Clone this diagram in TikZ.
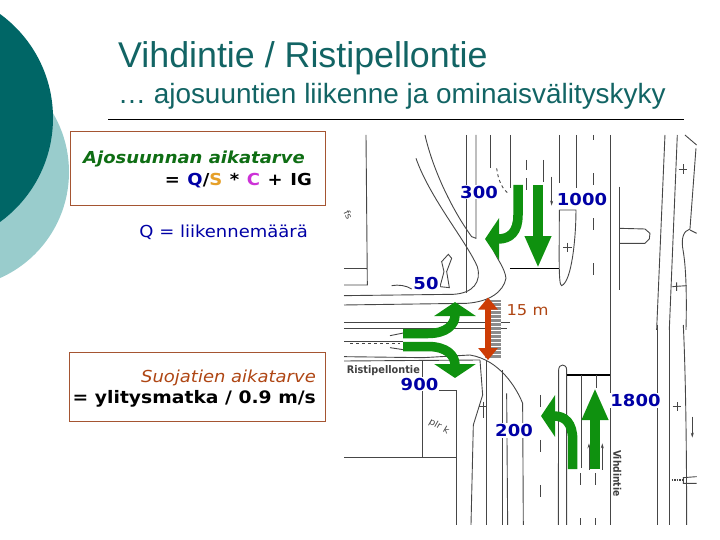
\documentclass[tikz,border=0pt]{standalone}
\usepackage{fontspec}
\usepackage{tikz}
\usetikzlibrary{arrows.meta,positioning,calc}
\setmainfont{Liberation Sans}
\newfontfamily\verdfont[FakeStretch=1.09]{DejaVu Sans}
\definecolor{TealDark}{RGB}{0,102,102}
\definecolor{TealLight}{RGB}{153,204,204}
\definecolor{TitleTeal}{RGB}{18,100,100}
\definecolor{BoxBorder}{RGB}{165,85,50}
\definecolor{ArrowGreen}{RGB}{15,145,15}
\definecolor{ArrowRed}{RGB}{205,60,5}
\definecolor{RedText}{RGB}{175,70,20}
\definecolor{CountBlue}{RGB}{0,0,165}
\definecolor{FormGreen}{RGB}{15,110,20}
\definecolor{FormOrange}{RGB}{230,160,40}
\definecolor{FormPurple}{RGB}{205,50,215}
\definecolor{MapGrey}{RGB}{70,70,70}

\begin{document}
\begin{tikzpicture}[x=1pt,y=-1pt,
          boxnote/.style={draw=BoxBorder,fill=white,line width=0.8pt,inner sep=0pt},
          formula/.style={font=\verdfont\fontsize{16.5}{18}\selectfont,inner sep=0pt},
          count/.style={font=\verdfont\fontsize{16.5}{20}\selectfont\bfseries,text=CountBlue,fill=white,inner sep=1pt},
          mapline/.style={draw=MapGrey,line width=0.9pt},
          maptext/.style={font=\verdfont\fontsize{9}{10}\selectfont,text=MapGrey,inner sep=0pt},
          flowlong/.style={draw=ArrowGreen,line width=9.5pt,-{Triangle[length=32pt,width=24.5pt]}},
          flowturn/.style={draw=ArrowGreen,line width=9.5pt,-{Triangle[length=14pt,width=41pt]}},
          walkspan/.style={draw=ArrowRed,line width=6.5pt,{Triangle[length=12pt,width=19pt]}-{Triangle[length=12pt,width=19pt]}}
        ]
          \useasboundingbox (0,0) rectangle (720,540);

          \fill[TealLight] (-47,172) circle (116);
          \fill[TealDark] (-75.5,118) circle (128.5);

          \node(title)[anchor=base west,inner sep=0pt,text=TitleTeal,font=\fontsize{35.8}{38}\selectfont] at (118,68) {Vihdintie / Ristipellontie};
          \node(subtitle)[anchor=base west,inner sep=0pt,text=TitleTeal,font=\fontsize{27.9}{30}\selectfont] at (118,104) {\ldots\ ajosuuntien liikenne ja ominaisvälityskyky};
          \coordinate (ruleL) at (108,119.5);
          \coordinate (ruleR) at (684,119.5);
          \draw[black,line width=1.6pt] (ruleL) -- (ruleR);

          \begin{scope}[shift={(340,125)},x=0.3333pt,y=-0.3333pt]
            \draw[mapline] (78,30) -- (82,480) -- (12,480);
            \draw[mapline] (12,430) -- (82,430);
            \draw[mapline] (255,30) .. controls (280,140) and (340,260) .. (395,335) -- (408,340) -- (408,30);
            \draw[mapline] (378,30) -- (378,505);
            \draw[mapline] (228,100) .. controls (270,220) and (380,350) .. (412,425) .. controls (425,470) and (400,505) .. (340,508) -- (12,512);
            \draw[mapline] (12,540) -- (380,535) .. controls (450,530) and (490,500) .. (498,460) .. controls (495,430) and (470,400) .. (460,375);
            \draw[mapline] (452,30) -- (452,130);
            \draw[mapline] (510,30) -- (510,190);
            \draw[mapline] (12,592) -- (510,592);
            \draw[mapline] (658,30) -- (658,175);
            \draw[mapline] (708,30) -- (708,190);
            \draw[mapline] (560,105) -- (560,135) (560,160) -- (560,195);
            \draw[mapline] (610,105) -- (610,170);
            \draw[mapline] (658,255) -- (708,255) .. controls (708,340) and (695,470) .. (665,482) .. controls (655,480) and (658,400) .. (658,255);
            \draw[draw=black,line width=1.3pt] (510,430) -- (658,430);
            \draw[mapline,-{Stealth[length=5pt,width=3pt]}] (635,155) -- (635,242);
            \draw[mapline] (760,30) -- (760,45) (760,145) -- (760,180) (760,280) -- (760,315) (760,415) -- (760,450);
            \draw[mapline] (812,30) -- (812,615);
            \draw[mapline] (838,185) -- (838,495);
            \draw[mapline] (838,310) -- (915,312) -- (930,325) -- (928,342) -- (915,355) -- (838,355);
            \draw[mapline] (975,30) -- (950,615);
            \draw[mapline] (1012,30) -- (988,615);
            \draw[mapline] (1035,30) -- (1070,60);
            \draw[mapline] (1068,70) -- (1050,312) .. controls (1030,318) and (1022,340) .. (1030,380) .. controls (1040,440) and (1040,540) .. (1038,615);
            \draw[mapline] (1050,315) -- (1070,325);
            \draw[mapline] (1016,132) -- (1042,132) (1030,118) -- (1030,146);
            \draw[mapline] (670,367) -- (695,367) (682,353) -- (682,381);
            \draw[mapline] (997,485) -- (1040,482) (1010,472) -- (1010,498);
            \draw[mapline] (305,410) -- (325,388) -- (335,400) -- (320,440) -- (328,488) -- (300,485) -- (312,440) -- cycle;
            \draw[mapline] (155,482) .. controls (175,478) and (200,482) .. (215,492);
            \draw[mapline,dashed] (470,130) .. controls (475,170) and (490,195) .. (505,205);
            \node(mapfs)[maptext,rotate=-65] at (25,270) {fs};
          \end{scope}

          \begin{scope}[shift={(340,325)},x=0.3333pt,y=-0.3333pt]
            \draw[mapline] (12,10) -- (500,10);
            \draw[mapline] (12,48) -- (190,48);
            \draw[mapline,dashed] (30,55) -- (180,55);
            \draw[mapline] (150,32) -- (190,24) (150,68) -- (190,74);
            \draw[mapline] (12,95) -- (250,98) -- (390,90) .. controls (480,105) and (530,190) .. (548,235) -- (550,600);
            \draw[mapline] (12,108) -- (420,105);
            \draw[mapline] (248,108) -- (248,398);
            \draw[mapline] (12,398) -- (348,398);
            \draw[mapline] (298,195) -- (348,195) -- (348,600);
            \draw[mapline] (420,105) -- (428,210) -- (400,300) -- (393,600);
            \draw[mapline] (440,105) -- (440,600);
            \draw[mapline] (487,135) -- (487,600);
            \draw[mapline] (500,205) -- (503,600);
            \draw[mapline] (418,245) -- (442,245) (430,230) -- (430,280);
            \draw[mapline] (602,210) -- (602,245) (602,345) -- (602,380) (602,480) -- (602,515);
            \draw[mapline] (655,600) -- (656,135) .. controls (656,115) and (680,115) .. (680,135) -- (680,600);
            \draw[draw=black,line width=1.3pt] (680,150) -- (812,150);
            \draw[mapline] (723,150) -- (723,430);
            \draw[mapline] (768,150) -- (768,190);
            \draw[mapline,{Stealth[length=5pt,width=3pt]}-] (747,355) -- (747,435);
            \draw[mapline,{Stealth[length=5pt,width=3pt]}-] (787,355) -- (787,435);
            \draw[mapline] (720,445) -- (720,480) (720,580) -- (720,600) (766,445) -- (766,480) (766,580) -- (766,600);
            \draw[mapline] (812,0) -- (812,600);
            \draw[mapline] (952,0) -- (952,600);
            \draw[mapline] (988,0) -- (988,600);
            \draw[mapline] (1030,0) .. controls (1035,100) and (1040,300) .. (1040,600);
            \draw[mapline,-{Stealth[length=5pt,width=3pt]}] (1057,275) -- (1057,338);
            \draw[mapline] (998,245) -- (1024,245) (1011,232) -- (1011,258);
            \draw[mapline] (1070,455) -- (1030,458) -- (1030,475) -- (1070,475);
            \draw[mapline,line width=1.5pt,dash pattern=on 1.5pt off 1pt] (995,465) -- (1030,465);
            \node(mapstreetW)[anchor=west,inner sep=0pt,font=\verdfont\fontsize{10.5}{12}\selectfont\bfseries,text=black!75,xscale=0.85] at (20,138) {Ristipellontie};
            \node(mapstreetN)[maptext,font=\verdfont\fontsize{10.5}{12}\selectfont\bfseries,text=black!75,rotate=-90,xscale=0.8] at (832,445) {Vihdintie};
            \node(mapplot)[maptext,rotate=-30] at (297,305) {plr k};
          \end{scope}

          \fill[black!45] (485,300) rectangle (501,358);
          \foreach \yy in {302,306,...,356} {
            \draw[white,line width=0.8pt] (485,\yy) -- (501,\yy);
          }

          \draw[flowlong] (538,185) -- (538,268);
          \draw[flowturn] (518,185) -- (518,215) .. controls (518,232) and (510,239) .. (485,239);
          \draw[flowturn] (403,333.5) -- (428,333.5) .. controls (446,333.5) and (455,325) .. (455,302);
          \draw[flowturn] (403,346.5) -- (428,346.5) .. controls (446,346.5) and (455,355) .. (455,378);
          \draw[flowturn] (572.7,469) -- (572.7,440) .. controls (572.7,423) and (565,416) .. (541,416);
          \draw[flowlong] (595,469) -- (595,388);
          \draw[walkspan] (488,297.5) -- (488,360);

          \node(cnt300)[count] at (479,192) {300};
          \node(cnt1000)[count] at (582,199) {1000};
          \node(cnt50)[count] at (426,283.5) {50};
          \node(cnt900)[count] at (419.5,384) {900};
          \node(cnt200)[count] at (514,430.5) {200};
          \node(cnt1800)[count] at (635.5,400.5) {1800};
          \node(span)[font=\verdfont\fontsize{15}{16}\selectfont,text=RedText,inner sep=0pt] at (527.5,310) {15 m};

          \node(boxlane)[boxnote,minimum width=255pt,minimum height=74pt] at (197.5,168) {};
          \node(lanename)[formula,anchor=base west,text=FormGreen,font=\verdfont\fontsize{16.5}{18}\selectfont\bfseries\itshape] at (83,164) {Ajosuunnan aikatarve};
          \node(laneform)[formula,anchor=base east,font=\verdfont\fontsize{16.5}{18}\selectfont\bfseries] at (312,186) {\spaceskip=7.6pt = \textcolor{CountBlue}{Q}/\textcolor{FormOrange}{S} * \textcolor{FormPurple}{C} + IG};
          \node(qnote)[formula,anchor=base east,text=CountBlue] at (308,237) {Q = liikennemäärä};

          \node(boxwalk)[boxnote,minimum width=256pt,minimum height=69pt] at (197,386.5) {};
          \node(walkname)[formula,anchor=base east,text=RedText,font=\verdfont\fontsize{16.5}{18}\selectfont\itshape] at (316,382) {Suojatien aikatarve};
          \node(walkform)[formula,anchor=base east,font=\verdfont\fontsize{17.2}{18}\selectfont\bfseries] at (316,403) {= ylitysmatka / 0.9 m/s};
        \end{tikzpicture}
\end{document}
